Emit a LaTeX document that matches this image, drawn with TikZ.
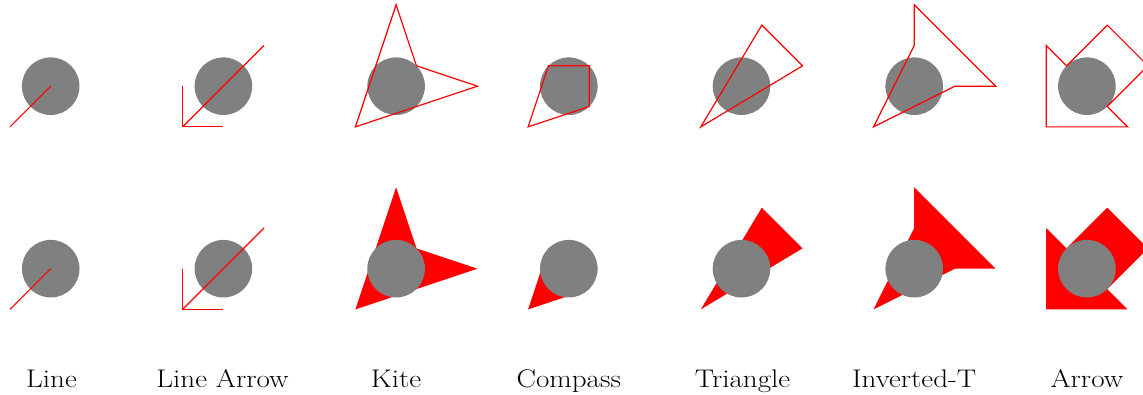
\documentclass[tikz,border=0pt]{standalone}
\begin{document}
\begin{tikzpicture}[x=1pt,y=1pt,
  dot/.style={circle, fill=gray, draw=none, minimum size=57.6pt, inner sep=0pt},
  outl/.style={draw=red, line width=1.2pt, line join=miter},
  solid/.style={fill=red, draw=none},
  lbl/.style={anchor=base, inner sep=0pt, font=\fontsize{25.5}{30}\selectfont},
  unit/.style={scale=40.7}]
\newcommand\wide[1]{\scalebox{1.14}[1]{#1}}
\useasboundingbox (0,0) rectangle (1143,395);
\clip (0,0) rectangle (1143,395);
\def\kitepath{(0,2) -- (0.5,0.5) -- (2,0) -- (-1,-1) -- cycle}
\def\compasspath{(-1,-1) -- (-0.5,0.5) -- (0.5,0.5) -- (0.5,-0.5) -- cycle}
\def\tripath{(-1,-1) -- (0.5,1.5) -- (1.5,0.5) -- cycle}
\def\invtpath{(-1,-1) -- (0,1) -- (0,2) -- (2,0) -- (1,0) -- cycle}
\def\arrowpath{(-1,-1) -- (-1,1) -- (-0.5,0.5) -- (0.5,1.5) -- (1.5,0.5) -- (0.5,-0.5) -- (1,-1) -- cycle}
% ---------- top row (outlines) ----------
\node[dot] (t1) at (50.7,308.8) {};
\node[dot] (t2) at (223.4,308.8) {};
\node[dot] (t3) at (396.1,308.8) {};
\node[dot] (t4) at (568.8,308.8) {};
\node[dot] (t5) at (741.5,308.8) {};
\node[dot] (t6) at (914.2,308.8) {};
\node[dot] (t7) at (1086.9,308.8) {};
\begin{scope}[shift={(t1.center)}, unit]
  \draw[outl] (0,0) -- (-1,-1);
\end{scope}
\begin{scope}[shift={(t2.center)}, unit]
  \draw[outl] (1,1) -- (-1,-1);
  \draw[outl] (-1,0) -- (-1,-1) -- (0,-1);
\end{scope}
\begin{scope}[shift={(t3.center)}, unit]
  \draw[outl] \kitepath;
\end{scope}
\begin{scope}[shift={(t4.center)}, unit]
  \draw[outl] \compasspath;
\end{scope}
\begin{scope}[shift={(t5.center)}, unit]
  \draw[outl] \tripath;
\end{scope}
\begin{scope}[shift={(t6.center)}, unit]
  \draw[outl] \invtpath;
\end{scope}
\begin{scope}[shift={(t7.center)}, unit]
  \draw[outl] \arrowpath;
\end{scope}
% ---------- bottom row (filled) ----------
\begin{scope}[shift={(396.1,126.3)}, unit]
  \fill[solid] \kitepath;
\end{scope}
\begin{scope}[shift={(568.8,126.3)}, unit]
  \fill[solid] \compasspath;
\end{scope}
\begin{scope}[shift={(741.5,126.3)}, unit]
  \fill[solid] \tripath;
\end{scope}
\begin{scope}[shift={(914.2,126.3)}, unit]
  \fill[solid] \invtpath;
\end{scope}
\begin{scope}[shift={(1086.9,126.3)}, unit]
  \fill[solid] \arrowpath;
\end{scope}
\node[dot] (b1) at (50.7,126.3) {};
\node[dot] (b2) at (223.4,126.3) {};
\node[dot] (b3) at (396.1,126.3) {};
\node[dot] (b4) at (568.8,126.3) {};
\node[dot] (b5) at (741.5,126.3) {};
\node[dot] (b6) at (914.2,126.3) {};
\node[dot] (b7) at (1086.9,126.3) {};
\begin{scope}[shift={(b1.center)}, unit]
  \draw[outl] (0,0) -- (-1,-1);
\end{scope}
\begin{scope}[shift={(b2.center)}, unit]
  \draw[outl] (1,1) -- (-1,-1);
  \draw[outl] (-1,0) -- (-1,-1) -- (0,-1);
\end{scope}
% ---------- labels ----------
\node[lbl] (l1) at (51.5,7.7) {\wide{Line}};
\node[lbl] (l2) at (222.5,7.7) {\wide{Line Arrow}};
\node[lbl] (l3) at (396.1,7.7) {\wide{Kite}};
\node[lbl] (l4) at (568.8,7.7) {\wide{Compass}};
\node[lbl] (l5) at (742.5,7.7) {\wide{Triangle}};
\node[lbl] (l6) at (914.2,7.7) {\wide{Inverted-T}};
\node[lbl] (l7) at (1086.9,7.7) {\wide{Arrow}};
\end{tikzpicture}
\end{document}
